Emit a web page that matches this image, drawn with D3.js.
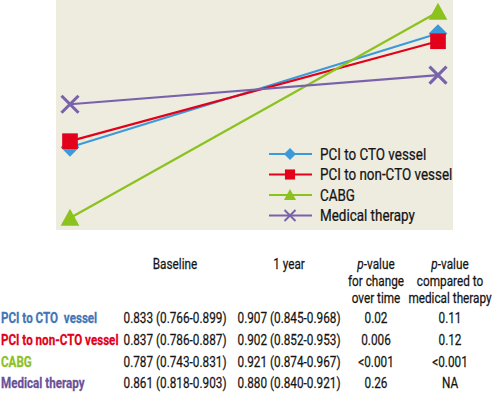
<!DOCTYPE html>
<html>
<head>
<meta charset="utf-8">
<script src="https://cdn.jsdelivr.net/npm/d3@7"></script>
<style>
  body { margin: 0; background: #fff; }
  svg text { font-family: Roboto, "Liberation Sans", sans-serif; fill: #141414; stroke: #141414; stroke-width: 0.25px; }
</style>
</head>
<body>
<div id="chart"></div>
<script>
// data
const timepoints = ["Baseline", "1 year"]
const seriesNames = ["PCI to CTO vessel", "PCI to non-CTO vessel", "CABG", "Medical therapy"]
const tableLabels = ["PCI to CTO  vessel", "PCI to non-CTO vessel", "CABG", "Medical therapy"]
const baselineValues = [0.833, 0.837, 0.787, 0.861]
const oneYearValues = [0.907, 0.902, 0.921, 0.880]
const baselineText = ["0.833 (0.766-0.899)", "0.837 (0.786-0.887)", "0.787 (0.743-0.831)", "0.861 (0.818-0.903)"]
const oneYearText = ["0.907 (0.845-0.968)", "0.902 (0.852-0.953)", "0.921 (0.874-0.967)", "0.880 (0.840-0.921)"]
const pChange = ["0.02", "0.006", "<0.001", "0.26"]
const pVsMedical = ["0.11", "0.12", "<0.001", "NA"]

const lineColors = ["#3b9ad9", "#e2001a", "#8cc21e", "#7862ab"]
const labelColors = ["#4176b6", "#e2001a", "#8cc21e", "#6a5199"]
const symbols = ["diamond", "square", "triangle", "cross"]

const dimensions = {
    width: 492,
    height: 399,
    panel: { left: 56, right: 453, top: 0, bottom: 230 },
}

const svg = d3.select("#chart").append("svg")
    .attr("width", dimensions.width)
    .attr("height", dimensions.height)

// the original uses a condensed face, so squeeze text horizontally
function addText(parent, x, y, anchor, size, squeeze) {
    return parent.append("g")
        .attr("transform", `translate(${x},${y}) scale(${squeeze},1)`)
        .append("text")
        .attr("text-anchor", anchor)
        .style("font-size", size + "px")
}

// panel background
svg.append("rect")
    .attr("x", dimensions.panel.left)
    .attr("y", dimensions.panel.top)
    .attr("width", dimensions.panel.right - dimensions.panel.left)
    .attr("height", dimensions.panel.bottom - dimensions.panel.top)
    .attr("fill", "#eeecdf")

// scales
const xScale = d3.scalePoint()
    .domain(timepoints)
    .range([70, 438])

const yScale = d3.scaleLinear()
    .domain([0.78, 0.93])
    .range([228.8, -1.8])

const series = seriesNames.map((name, i) => ({
    name: name,
    color: lineColors[i],
    symbol: symbols[i],
    values: [
        { t: timepoints[0], v: baselineValues[i] },
        { t: timepoints[1], v: oneYearValues[i] },
    ],
}))

const lineGenerator = d3.line()
    .x(d => xScale(d.t))
    .y(d => yScale(d.v))

// marker drawing
function drawMarker(g, type, color, size) {
    if (type == "cross") {
        const h = size * 0.5
        g.append("path")
            .attr("d", `M${-h},${-h}L${h},${h}M${-h},${h}L${h},${-h}`)
            .attr("stroke", color)
            .attr("stroke-width", size * 0.18)
            .attr("fill", "none")
        return
    }
    let path
    if (type == "diamond") {
        const h = size * 0.55
        path = `M0,${-h}L${h},0L0,${h}L${-h},0Z`
    } else if (type == "square") {
        const h = size * 0.46
        path = `M${-h},${-h}H${h}V${h}H${-h}Z`
    } else {
        const w = size * 0.55
        path = `M0,${-size * 0.55}L${w},${size * 0.45}L${-w},${size * 0.45}Z`
    }
    g.append("path").attr("d", path).attr("fill", color)
}

const lines = svg.append("g")
series.forEach(s => {
    lines.append("path")
        .attr("d", lineGenerator(s.values))
        .attr("fill", "none")
        .attr("stroke", s.color)
        .attr("stroke-width", 2.2)
})
series.forEach(s => {
    s.values.forEach(d => {
        const g = svg.append("g")
            .attr("transform", `translate(${xScale(d.t)},${yScale(d.v)})`)
        drawMarker(g, s.symbol, s.color, 17)
    })
})

// legend
const legend = svg.append("g")
series.forEach((s, i) => {
    const y = 154 + i * 20.5
    legend.append("line")
        .attr("x1", 269).attr("x2", 312)
        .attr("y1", y).attr("y2", y)
        .attr("stroke", s.color)
        .attr("stroke-width", 2)
    const g = legend.append("g")
        .attr("transform", `translate(290,${y})`)
    drawMarker(g, s.symbol, s.color, 11)
    addText(legend, 320, y + 5.5, "start", 15.8, 0.85).text(s.name)
})

// table
const colCenters = [175, 289, 376, 450]
const headers = [
    [["", "Baseline"]],
    [["", "1 year"]],
    [["p", "-value"], ["", "for change"], ["", "over time"]],
    [["p", "-value"], ["", "compared to"], ["", "medical therapy"]],
]
const table = svg.append("g")
headers.forEach((lines, c) => {
    lines.forEach((parts, j) => {
        const t = addText(table, colCenters[c], 269 + j * 16.8, "middle", 15.5, 0.76)
        if (parts[0]) t.append("tspan").style("font-style", "italic").text(parts[0])
        t.append("tspan").text(parts[1])
    })
})

const rowY = [323, 345, 367, 388]
tableLabels.forEach((label, i) => {
    addText(table, 1, rowY[i], "start", 15.5, 0.75)
        .style("font-weight", "bold")
        .style("fill", labelColors[i])
        .style("stroke", labelColors[i])
        .attr("xml:space", "preserve")
        .text(label)
    const cells = [baselineText[i], oneYearText[i], pChange[i], pVsMedical[i]]
    cells.forEach((v, c) => {
        addText(table, colCenters[c], rowY[i], "middle", 15.5, 0.76).text(v)
    })
})
</script>
</body>
</html>
